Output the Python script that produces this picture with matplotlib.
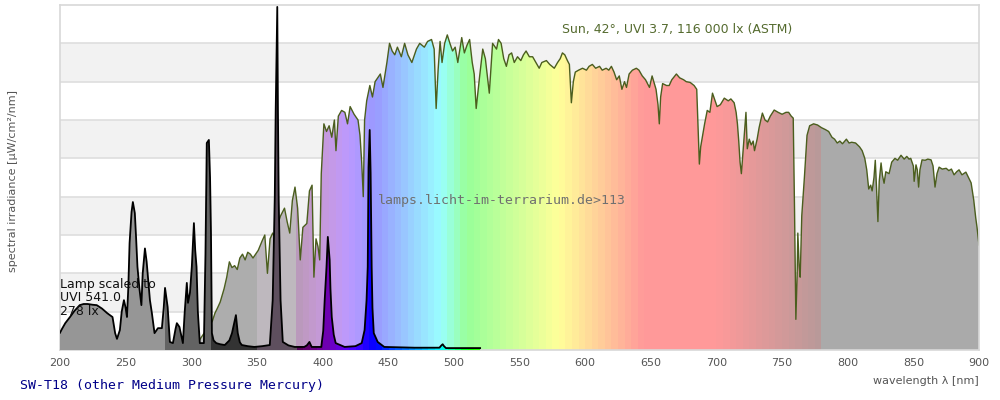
import numpy as np
import matplotlib
matplotlib.use('Agg')
import matplotlib.pyplot as plt
from matplotlib.patches import Polygon

# sun spectrum (ASTM), one band of the background = 1 unit
sun_nm = [300, 303, 306, 310, 313, 316, 318, 320, 322, 325, 327, 329, 331, 333, 335, 337, 339, 341,
          343, 345, 347, 349, 351, 354, 356, 358, 360, 362, 364, 366, 368, 369.5, 371, 373, 375, 377,
          379, 381, 383, 385, 388, 390, 392, 393.4, 395, 396.5, 397.8, 399, 401, 403, 405, 407, 409,
          410.2, 412, 414.5, 417, 419, 421, 424, 427, 428.5, 429.8, 431, 432, 433.6, 436, 438, 440,
          442, 444, 446, 449, 451, 453, 455, 457, 460, 462.5, 465, 468, 471.5, 474, 477.5, 480, 483,
          485, 486.5, 488, 489.5, 491, 493, 495, 497, 499, 501, 503, 506, 508, 510, 512, 514, 515.5,
          517, 519.5, 522, 524, 527, 529.5, 532.5, 534, 536, 538, 540, 542, 544, 546, 548.5, 551,
          553, 555, 557.5, 560, 562.5, 565, 567, 570.5, 573, 576.5, 579, 581, 582.7, 584.5, 586.5,
          588, 589.5, 591, 592.5, 595, 598, 601, 603, 605.5, 608, 611, 613, 616, 618, 620, 622, 624,
          626, 628, 630, 631.5, 633.5, 636, 639, 641, 643.5, 646, 649, 651, 654, 655.5, 656.5, 657.5,
          659, 662, 664, 666, 669.5, 672, 675, 677, 680, 683, 685, 686, 687, 688, 689.5, 691, 693,
          695, 697, 699, 700.5, 703, 706, 709, 711, 713.5, 715, 716, 717, 718, 719, 720.5, 722.5,
          723.5, 725, 726.5, 728, 729, 731, 732.5, 735, 737, 739, 741, 744, 747, 750, 753, 755, 757,
          758.5, 759.5, 760.5, 761.5, 762, 763, 763.8, 765, 767, 769, 771, 774, 777, 780, 783, 785.5,
          788, 790, 792, 794, 796, 799, 801, 803, 806, 809, 811, 813, 814.5, 816, 817.5, 818.6, 820,
          821, 822, 823, 824, 825.4, 826.5, 827.7, 829, 831.5, 833.5, 836, 838, 840.6, 843, 845,
          846.7, 848, 850, 850.6, 852, 853, 854, 855, 856.6, 859, 861, 863.5, 865, 866.5, 868, 869.6,
          872, 875, 877, 879, 881, 883, 884.8, 887, 890, 892, 894, 896, 897.5, 898.5, 900]
sun_val = [0.0, 0.1, 0.25, 0.45, 0.6, 0.75, 0.96, 1.1, 1.25, 1.6, 1.9, 2.3, 2.15, 2.2, 2.1, 2.4, 2.5, 2.35,
           2.55, 2.5, 2.4, 2.5, 2.6, 2.85, 3.0, 2.0, 2.9, 3.05, 2.9, 3.3, 3.5, 3.6, 3.7, 3.35, 3.05, 3.9,
           4.25, 3.7, 2.35, 3.2, 3.3, 4.15, 4.3, 1.9, 2.9, 2.7, 2.35, 4.6, 5.9, 5.7, 5.85, 5.55, 6.0,
           5.2, 6.1, 6.25, 6.2, 5.9, 6.35, 6.15, 6.0, 5.6, 4.9, 4.0, 6.0, 6.5, 6.9, 6.6, 7.0,
           7.1, 7.2, 6.85, 7.5, 8.0, 7.8, 7.7, 7.9, 7.65, 8.0, 7.7, 7.5, 7.85, 8.0, 7.9, 8.05, 8.1,
           7.85, 6.3, 7.3, 8.05, 7.5, 8.0, 8.22, 8.0, 7.8, 7.9, 7.5, 8.15, 7.75, 7.95, 8.1, 7.5, 7.2,
           6.3, 7.1, 7.85, 7.6, 6.7, 8.0, 7.85, 8.1, 8.0, 7.6, 7.4, 7.7, 7.75, 7.5, 7.65, 7.55,
           7.7, 7.8, 7.65, 7.65, 7.5, 7.35, 7.5, 7.55, 7.45, 7.35, 7.5, 7.6, 7.75, 7.7, 7.55,
           7.45, 6.45, 7.0, 7.25, 7.3, 7.35, 7.3, 7.4, 7.45, 7.35, 7.4, 7.3, 7.35, 7.3, 7.4, 7.25, 7.05,
           7.15, 6.8, 7.0, 6.85, 7.2, 7.3, 7.35, 7.3, 7.15, 7.05, 6.85, 7.15, 6.8, 6.4, 5.9, 6.6,
           6.95, 6.9, 6.9, 7.05, 7.2, 7.1, 7.05, 7.0, 6.98, 6.9, 6.8, 5.8, 4.85, 5.3, 5.6, 5.9, 6.25,
           6.2, 6.7, 6.5, 6.35, 6.4, 6.57, 6.5, 6.55, 6.45, 6.2, 5.9, 5.45, 4.9, 4.6, 5.3, 6.2,
           5.25, 5.5, 5.35, 5.45, 5.2, 5.5, 5.8, 6.18, 6.0, 5.95, 6.1, 6.26, 6.2, 6.15, 6.2, 6.2, 6.1,
           6.05, 3.65, 0.8, 2.0, 3.05, 2.2, 1.9, 3.5, 4.5, 5.6, 5.85, 5.9, 5.87, 5.8, 5.75, 5.7,
           5.55, 5.5, 5.4, 5.45, 5.38, 5.5, 5.4, 5.42, 5.4, 5.3, 5.2, 5.0, 4.7, 4.2, 4.3, 4.15, 4.5,
           4.95, 4.2, 3.35, 4.4, 4.88, 4.55, 4.35, 4.65, 4.6, 4.9, 5.0, 4.95, 5.08, 4.98, 5.05,
           4.98, 5.0, 4.8, 4.4, 4.83, 4.7, 4.25, 4.7, 4.96, 4.95, 4.98, 4.96, 4.8, 4.25, 4.6, 4.77,
           4.72, 4.74, 4.68, 4.72, 4.57, 4.65, 4.7, 4.57, 4.64, 4.5, 4.36, 3.91, 3.45, 3.2, 2.74]

# SW-T18 mercury lamp, scaled
lamp_nm = [200, 201.5, 204, 207.6, 211, 215, 218, 221, 225, 228, 232, 236, 240, 242, 243.4, 245.6,
           247, 248.7, 250, 251, 252, 253, 254.5, 255.5, 257, 258, 259, 260.5, 262, 263, 264.7, 266,
           267, 268.5, 270, 272, 274.6, 277.6, 279, 280, 282, 283.7, 286, 288, 289, 291, 292.5, 293.6,
           295, 296.6, 297.5, 299, 300.4, 302, 303, 304, 305, 306.5, 309.6, 310.8, 311.8, 313.4,
           314.3, 315, 315.7, 317, 319, 322, 325.5, 329, 331, 333, 334, 335.4, 337, 338.5, 343, 348,
           354, 359.8, 362, 363.6, 364.3, 365, 365.5, 366, 366.6, 368, 369.7, 374, 378.8, 386, 388,
           390, 391.7, 399, 400.5, 401.6, 403, 404, 405.4, 406, 407, 408.5, 410, 416.8, 425, 429.8,
           432, 433.5, 434.4, 435, 435.9, 436.6, 437.4, 438, 439, 442, 447, 470, 489, 490.5, 491.5,
           492.5, 494, 500, 510, 520]
lamp_val = [0.45, 0.55, 0.7, 0.86, 1.02, 1.17, 1.2, 1.2, 1.18, 1.17, 1.08, 0.96, 0.86, 0.44, 0.29, 0.52,
            1.0, 1.3, 1.1, 0.86, 1.6, 2.79, 3.6, 3.86, 3.57, 2.9, 2.17, 1.6, 1.17, 2.0, 2.65, 2.3,
            1.9, 1.3, 0.96, 0.44, 0.57, 0.57, 1.1, 1.62, 1.12, 0.21, 0.18, 0.55, 0.7, 0.6, 0.35, 0.18,
            1.0, 1.75, 1.23, 1.5, 2.17, 3.31, 2.6, 2.17, 1.0, 0.18, 0.18, 2.5, 5.4, 5.48,
            4.5, 3.05, 0.44, 0.25, 0.18, 0.15, 0.13, 0.25, 0.44, 0.75, 0.91, 0.44, 0.2, 0.13, 0.1, 0.08,
            0.1, 0.13, 1.3, 3.99, 6.26, 7.83, 8.95, 6.26, 3.91, 1.3, 0.21, 0.12, 0.08, 0.08, 0.12,
            0.21, 0.08, 0.08, 0.5, 1.3, 2.17, 2.95, 2.35, 1.6, 0.86, 0.4, 0.18, 0.08, 0.1, 0.18,
            0.52, 1.3, 2.17, 4.77, 5.74, 4.62, 2.17, 1.1, 0.44, 0.21, 0.08, 0.06, 0.06, 0.12, 0.15,
            0.1, 0.05, 0.05, 0.05, 0.05]

x_ticks = list(range(200, 901, 50))
n_bands = 9

sun_label = 'Sun, 42°, UVI 3.7, 116 000 lx (ASTM)'
lamp_label = 'Lamp scaled to\nUVI 541.0\n278 lx'
site_label = 'lamps.licht-im-terrarium.de>113'
title = 'SW-T18 (other Medium Pressure Mercury)'


def lamp_rgb(w):
    # fixed greys in the UV, usual wavelength->rgb ramp for the visible
    if w < 280:
        return (0.59, 0.59, 0.59)
    if w < 315:
        return (0.39, 0.39, 0.39)
    if w < 350:
        return (0.2, 0.2, 0.2)
    if w < 380:
        return (0.37, 0.31, 0.37)
    if w < 440:
        r, g, b = (440 - w) / 60, 0, 1
    elif w < 490:
        r, g, b = 0, (w - 440) / 50, 1
    elif w < 510:
        r, g, b = 0, 1, (510 - w) / 20
    elif w < 580:
        r, g, b = (w - 510) / 70, 1, 0
    elif w < 645:
        r, g, b = 1, (645 - w) / 65, 0
    else:
        r, g, b = 1, 0, 0
    f = 1.0
    if w < 420:
        f = 0.3 + 0.7 * (w - 380) / 40
    elif w > 700:
        f = 0.3 + 0.7 * (780 - w) / 80
    return (r * f, g * f, b * f)


def sun_rgb(w):
    if w > 780:
        return (0.667, 0.667, 0.667)
    return tuple(0.6 + 0.4 * c for c in lamp_rgb(w))


def strip_image(lo, hi, func, step=5):
    centers = np.arange(lo, hi, step) + step / 2
    return np.array([[func(c) for c in centers]])


fig = plt.figure(figsize=(10, 4), dpi=100)
ax = fig.add_axes([0.06, 0.125, 0.919, 0.8625])

# background bands
for i in range(n_bands):
    if i % 2 == 1:
        ax.axhspan(i, i + 1, color='#f2f2f2', lw=0, zorder=0)
for i in range(1, n_bands):
    ax.axhline(i, color='#e0e0e0', lw=1.3, zorder=0.5)

# sun: coloured strips clipped to the spectrum shape
sun_patch = Polygon(np.column_stack([[sun_nm[0]] + sun_nm + [sun_nm[-1]], [0] + sun_val + [0]]),
                    closed=True, facecolor='none', edgecolor='none')
ax.add_patch(sun_patch)
im = ax.imshow(strip_image(200, 900, sun_rgb), extent=[200, 900, 0, n_bands], aspect='auto',
               interpolation='nearest', origin='lower', zorder=1)
im.set_clip_path(sun_patch)
ax.plot(sun_nm, sun_val, color='#4b5e1e', lw=1.0, zorder=2)

# lamp on top
lamp_patch = Polygon(np.column_stack([[lamp_nm[0]] + lamp_nm + [lamp_nm[-1]], [0] + lamp_val + [0]]),
                     closed=True, facecolor='none', edgecolor='none')
ax.add_patch(lamp_patch)
im2 = ax.imshow(strip_image(200, 520, lamp_rgb), extent=[200, 520, 0, n_bands], aspect='auto',
                interpolation='nearest', origin='lower', zorder=3)
im2.set_clip_path(lamp_patch)
ax.plot(lamp_nm, lamp_val, color='black', lw=1.3, zorder=4)

ax.set_xlim(200, 900)
ax.set_ylim(0, n_bands)
ax.set_xticks(x_ticks)
ax.set_yticks([])
ax.tick_params(axis='x', length=0, pad=6, labelsize=8, labelcolor='#555555')
for s in ax.spines.values():
    s.set_color('#d8d8d8')
    s.set_linewidth(1.2)

ax.text(582, 8.35, sun_label, color='#556b2f', fontsize=9, va='center', ha='left', zorder=5)
ax.text(442, 3.89, site_label, color='#707070', fontsize=9.5, family='DejaVu Sans Mono',
        va='center', ha='left', zorder=5)
ax.text(200, 1.36, lamp_label, color='#111111', fontsize=9, va='center', ha='left',
        linespacing=1.05, zorder=5)

fig.text(0.008, 1 - 181 / 400, 'spectral irradiance [µW/cm²/nm]', rotation=90, color='#555555',
         fontsize=8, ha='left', va='center')
fig.text(0.979, 1 - 381 / 400, 'wavelength λ [nm]', color='#555555', fontsize=8,
         ha='right', va='center')
fig.text(0.02, 1 - 385 / 400, title, color='#000088', fontsize=9.5, family='DejaVu Sans Mono',
         ha='left', va='center')

fig.savefig('out.png', dpi=100)
